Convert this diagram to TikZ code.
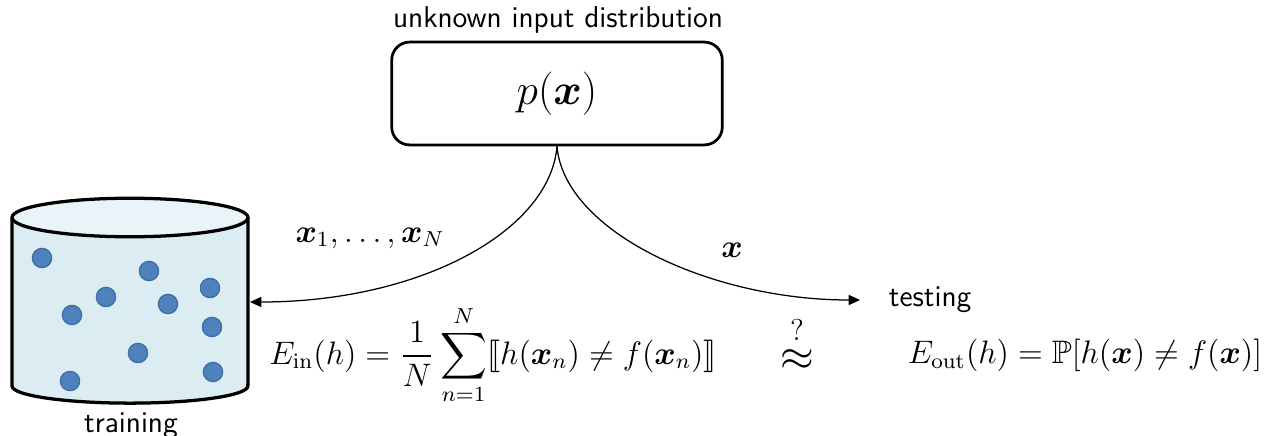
\documentclass[tikz,border=0pt]{standalone}
\usepackage{amsmath}
\usepackage{amssymb}
\usepackage{bm}
\usepackage{stmaryrd}
\usepackage{tikz}
\usetikzlibrary{arrows.meta, positioning}
\usepackage{xcolor}
\definecolor{dbBody}{HTML}{DBECF2}
\definecolor{dbTop}{HTML}{E9F4F8}
\definecolor{ptBlue}{HTML}{4F81BD}
\definecolor{ptEdge}{HTML}{3B6CA3}

\begin{document}
\begin{tikzpicture}[
    x=0.014cm, y=-0.014cm,
    lbl/.style={font=\sffamily\large},
    formula/.style={font=\large, scale=1.08},
    pt/.style={circle, fill=ptBlue, draw=ptEdge, line width=0.5pt, minimum size=0.27cm, inner sep=0pt},
    flow/.style={-{Triangle[length=4.5pt, width=4pt]}, line width=0.5pt},
]
    \useasboundingbox (0,0) rectangle (1264,435);

    % Distribution box
    \node[lbl] (title) at (558,20) {unknown input distribution};
    \node[draw, line width=1.1pt, rounded corners=0.25cm, minimum width=4.63cm, minimum height=1.44cm,
        font=\LARGE] (dist) at (557,93.5) {$p(\bm{x})$};

    % Training data base
    \filldraw[fill=dbBody, line width=1.3pt] (12,217.5) -- (12,386)
        arc[start angle=180, end angle=360, x radius=1.652cm, y radius=0.24cm] -- (248,217.5);
    \filldraw[fill=dbTop, line width=1.3pt] (130,217.5) ellipse[x radius=1.652cm, y radius=0.27cm];
    \coordinate (db) at (250,302);
    \foreach \px/\py [count=\i] in {42/258, 149/271, 210/288, 106/297, 168/304,
                                    72/315, 212/327, 138/353, 213/372, 70/381}
        \node[pt] (pt\i) at (\px,\py) {};
    \node[lbl] (train) at (131,426) {training};

    % Sampling
    \node[lbl, anchor=west] (test) at (880,300) {testing};
    \draw[flow] (dist.south) .. controls +(-7,85) and +(170,0) .. (db);
    \draw[flow, shorten >=0.28cm] (dist.south) .. controls +(7,85) and +(-170,0) .. (test.west);
    \node[formula] (xs) at (370,238) {$\bm{x}_1,\ldots,\bm{x}_N$};
    \node[formula] (x) at (732,250) {$\bm{x}$};

    % Errors
    \node[formula] (ein) at (493,355)
        {$E_{\mathrm{in}}(h) = \dfrac{1}{N}\displaystyle\sum_{n=1}^{N}\llbracket h(\bm{x}_n) \neq f(\bm{x}_n)\rrbracket$};
    \node[font=\LARGE] (apx) at (797,343) {$\overset{?}{\approx}$};
    \node[formula] (eout) at (1085,355) {$E_{\mathrm{out}}(h) = \mathbb{P}[h(\bm{x}) \neq f(\bm{x})]$};
\end{tikzpicture}
\end{document}
